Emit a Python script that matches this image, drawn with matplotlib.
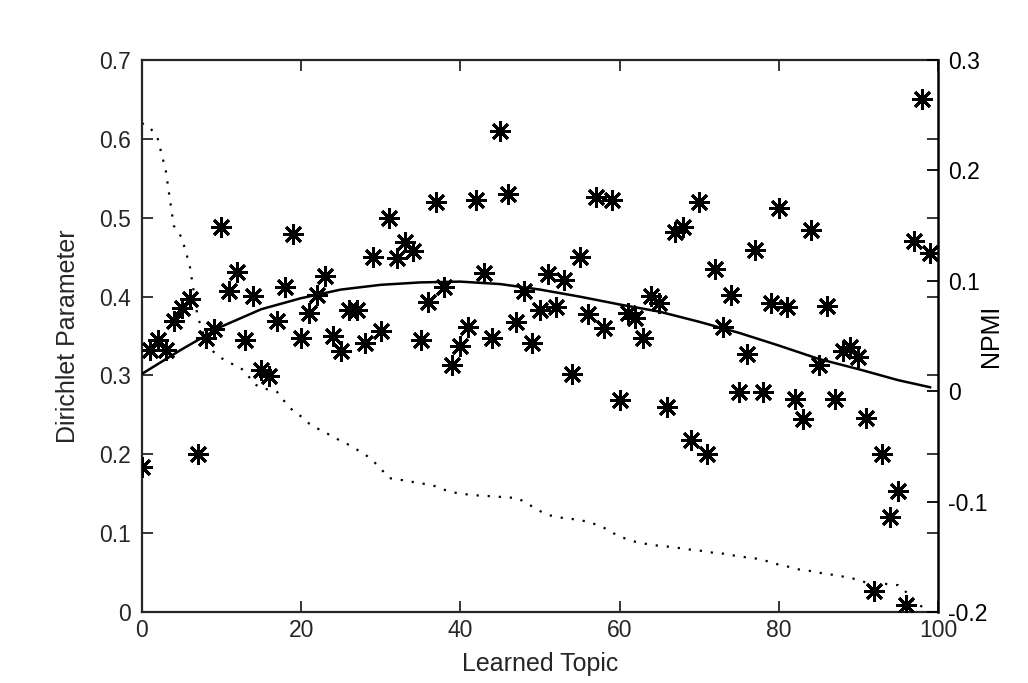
import numpy as np
import matplotlib
matplotlib.use('Agg')
import matplotlib.pyplot as plt

plt.rcParams['font.family'] = ['Liberation Sans', 'DejaVu Sans']

topics = list(range(100))

npmi = [-0.069, 0.037, 0.046, 0.037, 0.064, 0.075, 0.084, -0.057, 0.048, 0.056,
        0.149, 0.091, 0.108, 0.046, 0.086, 0.019, 0.014, 0.064, 0.094, 0.142,
        0.048, 0.071, 0.087, 0.104, 0.050, 0.036, 0.074, 0.074, 0.044, 0.122,
        0.055, 0.157, 0.121, 0.135, 0.127, 0.046, 0.081, 0.171, 0.094, 0.024,
        0.041, 0.058, 0.173, 0.107, 0.048, 0.236, 0.179, 0.063, 0.091, 0.044,
        0.074, 0.106, 0.076, 0.101, 0.016, 0.122, 0.070, 0.176, 0.057, 0.173,
        -0.008, 0.071, 0.066, 0.048, 0.086, 0.080, -0.014, 0.144, 0.149, -0.044,
        0.171, -0.057, 0.111, 0.058, 0.087, -0.001, 0.034, 0.128, -0.001, 0.080,
        0.166, 0.076, -0.007, -0.025, 0.146, 0.024, 0.077, -0.007, 0.036, 0.040,
        0.031, -0.024, -0.181, -0.057, -0.114, -0.090, -0.194, 0.136, 0.265, 0.125]

dirichlet = [0.620, 0.615, 0.600, 0.560, 0.490, 0.475, 0.440, 0.375, 0.345, 0.330,
             0.322, 0.316, 0.312, 0.305, 0.290, 0.284, 0.282, 0.279, 0.266, 0.255,
             0.248, 0.239, 0.233, 0.228, 0.222, 0.217, 0.212, 0.206, 0.200, 0.192,
             0.182, 0.170, 0.168, 0.167, 0.165, 0.163, 0.162, 0.159, 0.155, 0.152,
             0.150, 0.149, 0.148, 0.147, 0.147, 0.146, 0.145, 0.145, 0.140, 0.134,
             0.128, 0.123, 0.121, 0.119, 0.118, 0.116, 0.115, 0.111, 0.107, 0.101,
             0.096, 0.092, 0.089, 0.087, 0.085, 0.084, 0.083, 0.082, 0.080, 0.079,
             0.078, 0.076, 0.075, 0.074, 0.072, 0.071, 0.069, 0.068, 0.066, 0.063,
             0.060, 0.058, 0.055, 0.053, 0.052, 0.050, 0.048, 0.047, 0.045, 0.043,
             0.041, 0.037, 0.036, 0.036, 0.035, 0.034, 0.025, 0.010, 0.007, 0.005]

fit_topics = [0, 5, 10, 15, 20, 25, 30, 35, 40, 45, 50, 55, 60, 65, 70, 75, 80, 85, 90, 95, 99]
fit_npmi = [0.0157, 0.0379, 0.0586, 0.0743, 0.0843, 0.0921, 0.0964, 0.0986, 0.0993, 0.0971,
            0.0921, 0.0857, 0.0786, 0.0721, 0.0629, 0.0529, 0.0414, 0.0293, 0.0200, 0.0100, 0.0036]

left_ticks = [0, 0.1, 0.2, 0.3, 0.4, 0.5, 0.6, 0.7]
left_labels = ['0', '0.1', '0.2', '0.3', '0.4', '0.5', '0.6', '0.7']
right_ticks = [-0.2, -0.1, 0, 0.1, 0.2, 0.3]
right_labels = ['-0.2', '-0.1', '0', '0.1', '0.2', '0.3']
x_ticks = [0, 20, 40, 60, 80, 100]
x_labels = ['0', '20', '40', '60', '80', '100']

fig = plt.figure(figsize=(10.28, 6.83), dpi=100)
ax = fig.add_axes([0.138, 0.104, 0.7745, 0.808])
ax2 = ax.twinx()

ax.plot(topics, dirichlet, color='black', linestyle=(0, (1, 4)), lw=1.6)
ax2.plot(fit_topics, fit_npmi, color='black', lw=1.8)
ax2.plot(topics, npmi, linestyle='none', marker=(8, 2, 0), ms=15, mew=2.1, color='black')

ax.set_xlim(0, 100)
ax.set_ylim(0, 0.7)
ax2.set_ylim(-0.2, 0.3)

fs = 16.5
lfs = 18
gray = '#262626'
ax.set_xticks(x_ticks)
ax.set_xticklabels(x_labels)
ax.set_yticks(left_ticks)
ax.set_yticklabels(left_labels)
ax2.set_yticks(right_ticks)
ax2.set_yticklabels(right_labels)

ax.tick_params(axis='x', direction='in', length=8, width=1.3, top=True, bottom=True,
               labelsize=fs, colors=gray, pad=5)
ax.tick_params(axis='y', direction='in', length=8, width=1.3, left=True, right=True,
               labelright=False, labelsize=fs, colors=gray, pad=8)
ax2.tick_params(axis='y', direction='in', length=8, width=1.3, right=True, left=False,
                labelsize=fs, colors='black', pad=7)

for s in ['left', 'bottom', 'top']:
    ax.spines[s].set_color(gray)
    ax.spines[s].set_linewidth(1.6)
ax.spines['right'].set_visible(False)
for s in ['left', 'bottom', 'top']:
    ax2.spines[s].set_visible(False)
ax2.spines['right'].set_color('black')
ax2.spines['right'].set_linewidth(1.8)

ax.set_xlabel('Learned Topic', fontsize=lfs, color=gray)
ax.xaxis.set_label_coords(0.5, -0.072)
ax.set_ylabel('Dirichlet Parameter', fontsize=lfs, color=gray)
ax.yaxis.set_label_coords(-0.078, 0.5)
ax2.set_ylabel('NPMI', fontsize=lfs, color='black')
ax2.yaxis.set_label_coords(1.052, 0.5)

fig.savefig('out.png', dpi=100, facecolor='white')
